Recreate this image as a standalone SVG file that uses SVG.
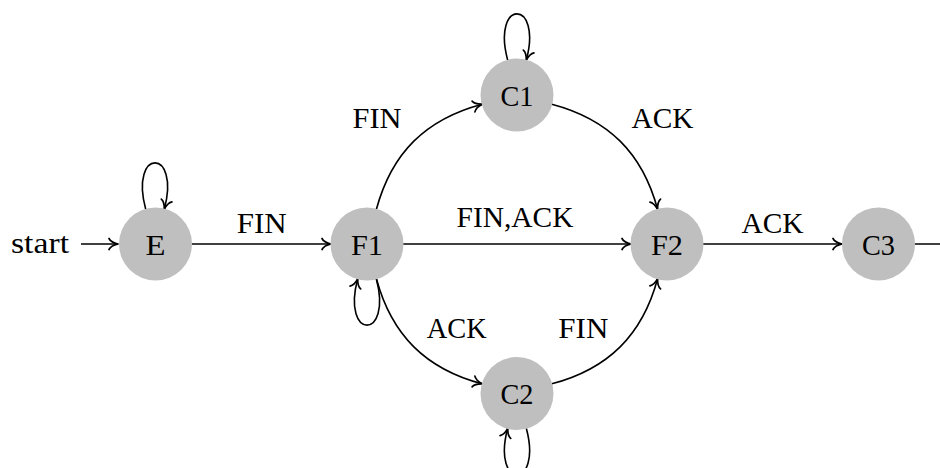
<svg xmlns="http://www.w3.org/2000/svg" width="940" height="468" viewBox="0 0 940 468">
  <defs>
    <marker id="arr" markerUnits="userSpaceOnUse" markerWidth="16" markerHeight="16" viewBox="-12 -8 16 16" refX="0" refY="0" orient="auto" overflow="visible">
      <path d="M-9,-5.5 C-7.5,-2.5 -3,-0.7 0,0 C-3,0.7 -7.5,2.5 -9,5.5" fill="none" stroke="#000" stroke-width="1.7" stroke-linecap="round" stroke-linejoin="round"/>
    </marker>
    <style>
      .node circle { fill: #bfbfbf; stroke: none; }
      text { font-family: 'Liberation Serif', 'DejaVu Serif', serif; font-size: 30px; fill: #000; text-anchor: middle; }
      .edge { fill: none; stroke: #000; stroke-width: 1.6; marker-end: url(#arr); }
    </style>
  </defs>
  <rect width="940" height="468" fill="#fff"/>

  <g id="connectors">
    <path class="edge" d="M81,244 L118,244"/>
    <path class="edge" d="M192,244 L331,244"/>
    <path class="edge" d="M403,244 L631,244"/>
    <path class="edge" d="M703,244 L842,244"/>
    <path class="edge" d="M915,244 L952,244"/>
    <path class="edge" d="M376.4,209.3 C391.7,152.9 425.7,119.1 482.2,104.2"/>
    <path class="edge" d="M551.8,104.2 C608.3,119.1 642.3,152.9 657.6,209.3"/>
    <path class="edge" d="M376.4,278.7 C391.7,335.1 425.7,368.9 482.2,383.8"/>
    <path class="edge" d="M551.8,383.8 C608.3,368.9 642.3,335.1 657.6,278.7"/>
    <path class="edge" d="M145.7,209.2 C129.1,147.4 180.9,147.4 164.3,209.2"/>
    <path class="edge" d="M507.7,60.2 C491.1,-1.6 542.9,-1.6 526.3,60.2"/>
    <path class="edge" d="M376.3,278.8 C392.9,340.6 341.1,340.6 357.7,278.8"/>
    <path class="edge" d="M526.3,428.3 C542.9,490.1 491.1,490.1 507.7,428.3"/>
  </g>

  <g id="labels">
    <text x="40" y="252.7" textLength="58" lengthAdjust="spacingAndGlyphs">start</text>
    <text x="261.7" y="233.3" textLength="50" lengthAdjust="spacingAndGlyphs">FIN</text>
    <text x="515" y="226.7" textLength="117" lengthAdjust="spacingAndGlyphs">FIN,ACK</text>
    <text x="772.5" y="233.3" textLength="62" lengthAdjust="spacingAndGlyphs">ACK</text>
    <text x="377" y="128.3" textLength="49" lengthAdjust="spacingAndGlyphs">FIN</text>
    <text x="662.5" y="128.3" textLength="62" lengthAdjust="spacingAndGlyphs">ACK</text>
    <text x="456.7" y="338.3" textLength="60" lengthAdjust="spacingAndGlyphs">ACK</text>
    <text x="583.3" y="338.3" textLength="50" lengthAdjust="spacingAndGlyphs">FIN</text>
  </g>

  <g id="E" class="node"><circle cx="155.5" cy="244" r="36.5"/><text x="155.5" y="254.5" textLength="20" lengthAdjust="spacingAndGlyphs">E</text></g>
  <g id="F1" class="node"><circle cx="367" cy="244" r="36.5"/><text x="367" y="254.5" textLength="32" lengthAdjust="spacingAndGlyphs">F1</text></g>
  <g id="C1" class="node"><circle cx="517" cy="95" r="36.5"/><text x="517" y="105.5" textLength="33" lengthAdjust="spacingAndGlyphs">C1</text></g>
  <g id="C2" class="node"><circle cx="517" cy="393.5" r="36.5"/><text x="517" y="404" textLength="33" lengthAdjust="spacingAndGlyphs">C2</text></g>
  <g id="F2" class="node"><circle cx="667" cy="244" r="36.5"/><text x="667" y="254.5" textLength="32" lengthAdjust="spacingAndGlyphs">F2</text></g>
  <g id="C3" class="node"><circle cx="878.5" cy="244" r="36.5"/><text x="878.5" y="254.5" textLength="33" lengthAdjust="spacingAndGlyphs">C3</text></g>
</svg>
